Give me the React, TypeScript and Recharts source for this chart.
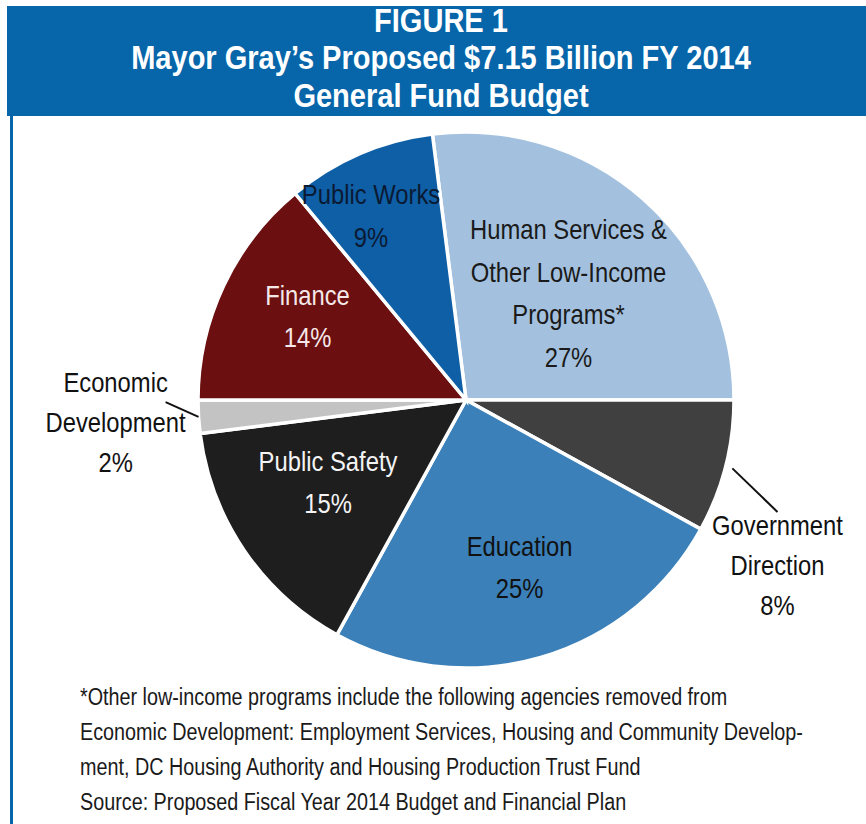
// Pie Chart - Mayor Gray's proposed FY 2014 general fund budget
import React from "react";
import { PieChart, Pie, Cell } from "recharts";

const categories = [
  "Human Services",
  "Government Direction",
  "Education",
  "Public Safety",
  "Economic Development",
  "Finance",
  "Public Works"
];
const shares = [27, 8, 25, 15, 2, 14, 9];
const labelLines = [
  ["Human Services &", "Other Low-Income", "Programs*", "27%"],
  ["Government", "Direction", "8%"],
  ["Education", "25%"],
  ["Public Safety", "15%"],
  ["Economic", "Development", "2%"],
  ["Finance", "14%"],
  ["Public Works", "9%"]
];
const titleLines = ["FIGURE 1", "Mayor Gray’s Proposed $7.15 Billion FY 2014", "General Fund Budget"];
const footnote = [
  "*Other low-income programs include the following agencies removed from",
  "Economic Development: Employment Services, Housing and Community Develop-",
  "ment, DC Housing Authority and Housing Production Trust Fund",
  "Source: Proposed Fiscal Year 2014 Budget and Financial Plan"
];

const COLORS = ["#a3c1de", "#404040", "#3b80b9", "#1e1e1e", "#c3c3c3", "#6b0f10", "#0f5fa6"];
const TEXT_COLORS = ["#1a1a1a", "#111", "#111", "#f4f4f4", "#111", "#f5e8e8", "#0b1a33"];
const BLUE = "#0766a9";

// label placement: radius as fraction of outer radius, small nudges
const LABEL_POS: Record<string, { r: number; dx: number; dy: number; outside?: boolean }> = {
  "Human Services": { r: 0.55, dx: 5, dy: 4 },
  "Government Direction": { r: 1.2, dx: 0, dy: 85, outside: true },
  Education: { r: 0.65, dx: 5, dy: 0 },
  "Public Safety": { r: 0.6, dx: -5, dy: -8 },
  "Economic Development": { r: 1.31, dx: 0, dy: 0, outside: true },
  Finance: { r: 0.67, dx: 4, dy: -7 },
  "Public Works": { r: 0.77, dx: -13, dy: 5 }
};

const data = categories.map((name, i) => ({ name, value: shares[i] }));

const FONT = '"Liberation Sans", Arial, sans-serif';
const SQUEEZE = 0.85; // condensed look
const RAD = Math.PI / 180;

const renderLabel = (props: any) => {
  const { cx, cy, midAngle, outerRadius, index, name } = props;
  const pos = LABEL_POS[name];
  const r = outerRadius * pos.r;
  const x = cx + r * Math.cos(-midAngle * RAD) + pos.dx;
  const y = cy + r * Math.sin(-midAngle * RAD) + pos.dy;
  const lines = labelLines[index];
  const lh = pos.outside ? 40 : 42.5;
  const top = y - ((lines.length - 1) * lh) / 2;
  let leader = null;
  if (pos.outside) {
    const r0 = outerRadius + (name === "Government Direction" ? 7 : 0);
    const x0 = cx + r0 * Math.cos(-midAngle * RAD);
    const y0 = cy + r0 * Math.sin(-midAngle * RAD);
    const x1 = name === "Government Direction" ? x : x + 50;
    const y1 = name === "Government Direction" ? top - 13 : top + 20;
    leader = <line x1={x0} y1={y0} x2={x1} y2={y1} stroke="#111" strokeWidth={2} />;
  }
  return (
    <g key={`lbl-${index}`}>
      {leader}
      <g transform={`translate(${x} 0) scale(${SQUEEZE} 1) translate(${-x} 0)`}>
        <text
          x={x}
          y={top}
          textAnchor="middle"
          dominantBaseline="central"
          fill={TEXT_COLORS[index]}
          style={{ fontFamily: FONT, fontSize: 28 }}
        >
          {lines.map((l, k) => (
            <tspan key={k} x={x} y={top + k * lh}>
              {l}
            </tspan>
          ))}
        </text>
      </g>
    </g>
  );
};

export default function App() {
  return (
    <div
      style={{
        position: "absolute",
        left: 0,
        top: 0,
        width: 866,
        height: 824,
        background: "#fff",
        overflow: "hidden"
      }}
    >
      {/* Header, frame and footnote */}
      <svg width={866} height={824} style={{ position: "absolute", left: 0, top: 0 }}>
        <rect x={7} y={6} width={859} height={110} fill={BLUE} />
        <rect x={10} y={116} width={3} height={708} fill={BLUE} />
        <g transform="translate(441 0) scale(0.88 1) translate(-441 0)">
          {titleLines.map((t, i) => (
            <text
              key={i}
              x={441}
              y={32 + i * 37.5}
              textAnchor="middle"
              fill="#fff"
              style={{ fontFamily: FONT, fontSize: 33, fontWeight: "bold" }}
            >
              {t}
            </text>
          ))}
        </g>
        <g transform="translate(80 0) scale(0.86 1) translate(-80 0)">
          {footnote.map((t, i) => (
            <text
              key={i}
              x={80}
              y={705 + i * 35}
              fill="#1a1a1a"
              style={{ fontFamily: FONT, fontSize: 23 }}
            >
              {t}
            </text>
          ))}
        </g>
      </svg>

      <div style={{ position: "absolute", left: 0, top: 0 }}>
        <PieChart width={866} height={824} margin={{ top: 0, right: 0, bottom: 0, left: 0 }}>
          <Pie
            data={data}
            dataKey="value"
            nameKey="name"
            cx={466}
            cy={400}
            outerRadius={268}
            startAngle={97.2}
            endAngle={-262.8}
            stroke="#fff"
            strokeWidth={3.5}
            label={renderLabel}
            labelLine={false}
            isAnimationActive={false}
          >
            {data.map((d, i) => (
              <Cell key={d.name} fill={COLORS[i]} />
            ))}
          </Pie>
        </PieChart>
      </div>
    </div>
  );
}
